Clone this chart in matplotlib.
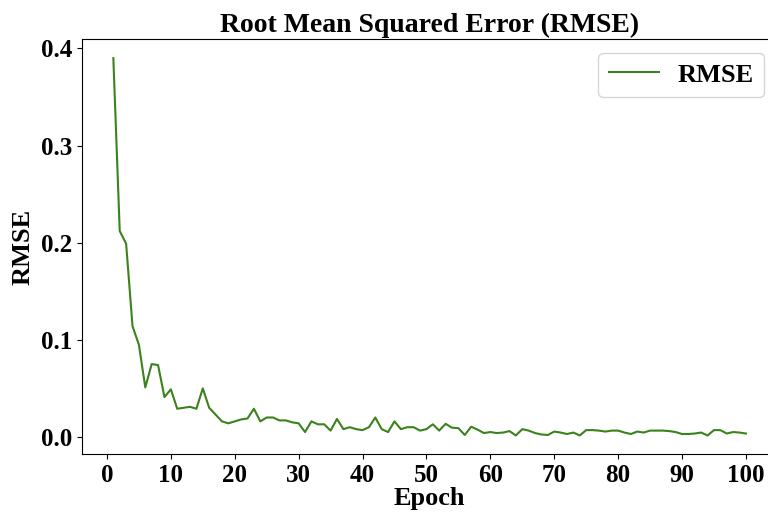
import matplotlib
matplotlib.use("Agg")
import matplotlib.pyplot as plt

# RMSE per epoch
epochs = list(range(1, 101))
rmse = [
    0.390, 0.212, 0.199, 0.114, 0.095, 0.051, 0.075, 0.074, 0.041, 0.049,
    0.029, 0.030, 0.031, 0.029, 0.050, 0.030, 0.023, 0.016, 0.014, 0.016,
    0.018, 0.019, 0.029, 0.016, 0.020, 0.020, 0.017, 0.017, 0.015, 0.014,
    0.005, 0.016, 0.013, 0.013, 0.0065, 0.0185, 0.008, 0.010, 0.008, 0.007,
    0.010, 0.020, 0.008, 0.005, 0.016, 0.008, 0.010, 0.010, 0.0065, 0.008,
    0.013, 0.0065, 0.0135, 0.0095, 0.009, 0.002, 0.0105, 0.0075, 0.004, 0.005,
    0.004, 0.0045, 0.006, 0.0015, 0.008, 0.0065, 0.004, 0.0025, 0.002, 0.0055,
    0.0045, 0.003, 0.0045, 0.0015, 0.007, 0.007, 0.0065, 0.0055, 0.0065, 0.0065,
    0.0045, 0.003, 0.0055, 0.0045, 0.0065, 0.0065, 0.0065, 0.006, 0.005, 0.003,
    0.003, 0.0035, 0.0045, 0.0015, 0.007, 0.007, 0.0035, 0.005, 0.0045, 0.0035,
]
x_ticks = [0, 10, 20, 30, 40, 50, 60, 70, 80, 90, 100]
y_ticks = [0.0, 0.1, 0.2, 0.3, 0.4]

plt.rcParams["font.family"] = ["Liberation Serif", "DejaVu Serif"]
plt.rcParams["font.weight"] = "bold"

fig = plt.figure(figsize=(7.68, 5.14), dpi=100)
# axes runs slightly past the right edge, as in the (cropped) reference
ax = fig.add_axes([0.1064, 0.1161, 0.906, 0.8074])

ax.plot(epochs, rmse, color="#3a821b", linewidth=1.5, label="RMSE")

ax.set_xticks(x_ticks)
ax.set_yticks(y_ticks)
ax.set_yticklabels([f"{v:.1f}" for v in y_ticks])
ax.tick_params(labelsize=18)
for lab in ax.get_xticklabels() + ax.get_yticklabels():
    lab.set_fontweight("bold")
ax.spines["right"].set_visible(False)

ax.set_title("Root Mean Squared Error (RMSE)", fontsize=20, fontweight="bold", pad=5)
ax.set_xlabel("Epoch", fontsize=19, fontweight="bold", labelpad=0)
ax.set_ylabel("RMSE", fontsize=19, fontweight="bold", labelpad=4)

ax.legend(loc="upper right", prop={"size": 19, "weight": "bold"},
          handlelength=1.9, handletextpad=0.7)

fig.savefig("out.png", dpi=100)
